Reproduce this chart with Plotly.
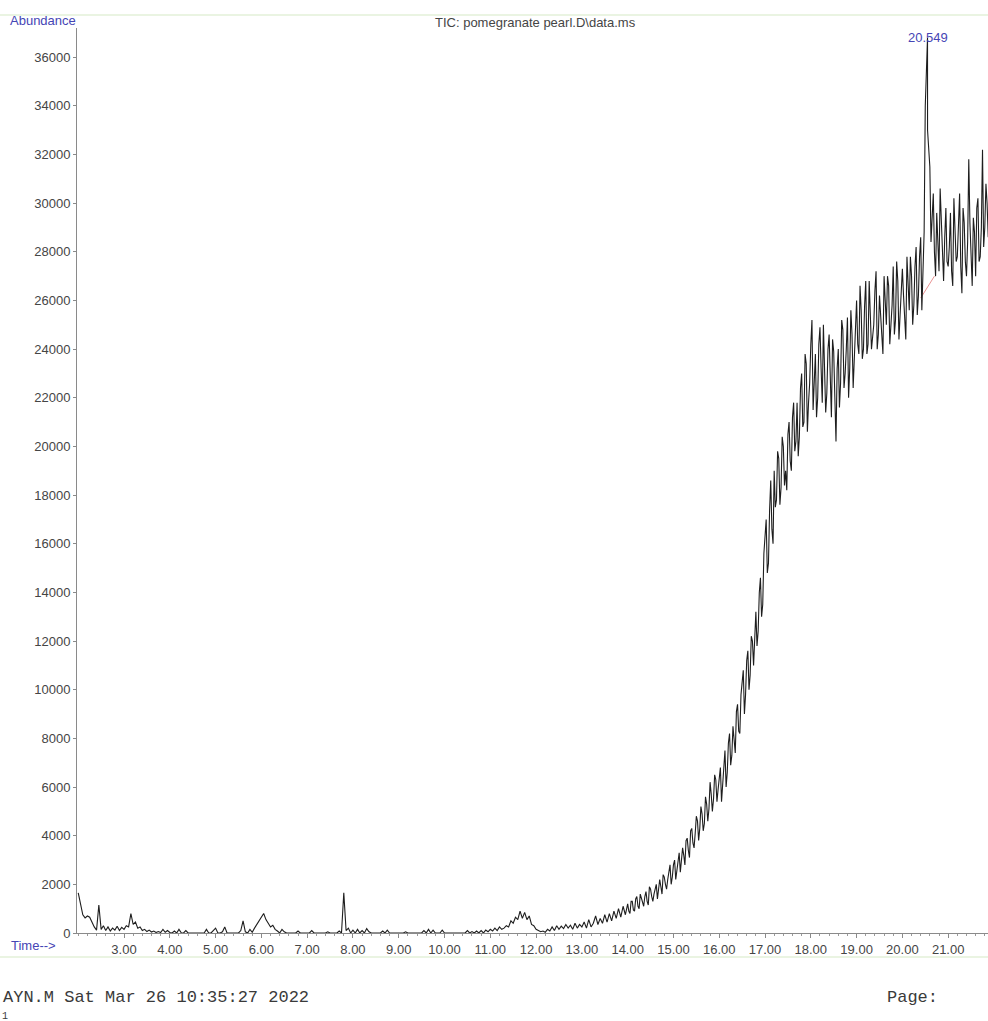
import plotly.graph_objects as go

# Total ion chromatogram, one abundance reading per scan
SCAN_START = 2.00   # min
SCAN_STEP = 0.05    # min
abundance = [
    # 2.00 - 2.95
    1650, 1200, 750, 620, 700, 650, 420, 250, 120, 1150, 150, 300, 100, 250, 80, 200, 120, 280, 100, 230,
    # 3.00 - 3.95
    150, 300, 250, 800, 350, 450, 200, 250, 100, 150, 60, 120, 40, 80, 20, 60, 20, 150, 30, 100,
    # 4.00 - 4.95
    20, 0, 80, 0, 150, 10, 0, 100, 0, 0, 0, 0, 0, 0, 0, 0, 150, 0, 0, 120,
    # 5.00 - 5.95
    200, 0, 0, 50, 250, 0, 0, 0, 0, 0, 0, 100, 500, 50, 0, 150, 30, 200, 350, 450,
    # 6.00 - 6.95
    650, 800, 550, 400, 250, 320, 150, 80, 0, 150, 50, 0, 0, 0, 0, 0, 80, 0, 0, 0,
    # 7.00 - 7.95
    0, 0, 100, 0, 0, 0, 0, 0, 0, 50, 0, 0, 0, 0, 80, 0, 1650, 100, 200, 0,
    # 8.00 - 8.95
    120, 0, 150, 0, 100, 0, 180, 50, 0, 0, 0, 0, 0, 80, 0, 120, 0, 0, 0, 0,
    # 9.00 - 9.95
    0, 0, 0, 50, 0, 0, 0, 0, 0, 0, 0, 100, 0, 150, 0, 120, 0, 0, 0, 120,
    # 10.00 - 10.95
    0, 0, 0, 0, 0, 0, 0, 0, 0, 0, 100, 0, 60, 0, 80, 0, 100, 0, 120, 50,
    # 11.00 - 11.95
    150, 80, 200, 100, 250, 150, 200, 300, 250, 500, 400, 650, 550, 900, 600, 850, 550, 700, 350, 300,
    # 12.00 - 12.95
    150, 100, 50, 80, 30, 150, 80, 250, 100, 300, 150, 280, 180, 350, 200, 320, 150, 400, 200, 350,
    # 13.00 - 13.95
    250, 450, 200, 550, 250, 400, 700, 350, 600, 400, 750, 450, 800, 500, 900, 600, 1000, 650, 1100, 750,
    # 14.00 - 14.95
    1200, 800, 1300, 900, 1500, 1000, 1400, 1100, 1700, 1150, 1800, 1300, 1900, 1400, 2200, 1600, 2300, 1800, 2600, 2000,
    # 15.00 - 15.95
    2800, 2200, 3100, 2500, 3500, 2800, 3900, 3100, 4300, 3500, 4800, 3800, 5200, 4200, 5600, 4600, 6200, 5000, 6500, 5400,
    # 16.00 - 16.95
    6400, 5400, 7200, 6000, 7800, 6900, 8500, 7400, 9400, 8200, 10400, 9000, 11200, 10000, 12200, 11000, 13200, 12400, 14600, 13500,
    # 17.00 - 17.95
    16200, 14800, 17400, 16600, 19000, 17800, 19500, 18300, 20000, 19000, 20500, 19400, 21200, 19800, 21800, 20400, 23000, 21000, 23400, 21800,
    # 18.00 - 18.95
    24200, 21500, 23800, 22000, 24900, 21800, 23600, 22200, 24600, 21200, 23900, 20200, 24000, 22600, 24800, 23000, 25300, 23200, 24600, 23400,
    # 19.00 - 19.95
    26000, 23800, 25600, 24000, 26800, 24200, 25400, 24500, 26400, 24000, 26200, 24600, 27000, 25000, 26600, 24800, 27400, 25200, 26800, 25400,
    # 20.00 - 20.95
    27300, 25200, 27800, 25600, 27000, 25800, 28200, 26200, 28600, 27000, 34000, 33000, 31500, 29200, 28000, 29600, 27200, 29000, 26800, 29800,
    # 21.00 - 21.95
    27400, 29600, 26600, 29000, 27800, 30400, 26300, 29200, 27000, 31800, 27600, 29400, 27000, 30200, 27800, 32200, 29000, 30000, 31000, 29800,
]

# Interleaved scans (half a step later) across the rising part of the run
MID_START = 14.025  # min
abundance_mid = [
    # 14.025 - 14.975
    900, 1300, 950, 1400, 1100, 1600, 1200, 1500, 1300, 1900, 1500, 1600, 2000, 1700, 1900, 2400, 2000, 2200, 2800, 2300,
    # 15.025 - 15.975
    3000, 2600, 3300, 2900, 3200, 3800, 3400, 4200, 3700, 4100, 4600, 4300, 4900, 4500, 5300, 5100, 5700, 5500, 6300, 5900,
    # 16.025 - 16.975
    6800, 6100, 7500, 6600, 8200, 7300, 8000, 9100, 8300, 9800, 10800, 9800, 11600, 10600, 12000, 12600, 11800, 14000, 13000, 15600,
    # 17.025 - 17.975
    17000, 15200, 18600, 16000, 17500, 19800, 17600, 20400, 18400, 18200, 21000, 19000, 21800, 20200, 19600, 22400, 20800, 23800, 20600, 22600,
    # 18.025 - 18.975
    25200, 22800, 21200, 24200, 23200, 25000, 21400, 24000, 22600, 24400, 22000, 23200, 21600, 25200, 22400, 24000, 22000, 25600, 22400, 25000,
    # 19.025 - 19.975
    24200, 26600, 23600, 25800, 23800, 26800, 24000, 25000, 27200, 24600, 25200, 23800, 25600, 27000, 24200, 25800, 24600, 27600, 24400, 26200,
    # 20.025 - 20.975
    26200, 24400, 26600, 27800, 25000, 27400, 25400, 27800, 25600, 28800, 35500, 32200, 28400, 30400, 27000, 28200, 30600, 27400, 28600, 27600,
    # 21.025 - 21.975
    28200, 27200, 30200, 27600, 28800, 27400, 29800, 27600, 28400, 29200, 26600, 28800, 29800, 27600, 29000, 28200, 30800, 28600, 29400, 30200,
]

# Apex of the largest peak
APEX_RT = 20.549
APEX_ABUND = 36800

# Integration baseline drawn under the apex peak
baseline_rt = [20.40, 20.70]
baseline_abund = [26100, 27000]

x_tick_vals = [3, 4, 5, 6, 7, 8, 9, 10, 11, 12, 13, 14, 15, 16, 17, 18, 19, 20, 21]
y_tick_vals = [0, 2000, 4000, 6000, 8000, 10000, 12000, 14000, 16000, 18000,
               20000, 22000, 24000, 26000, 28000, 30000, 32000, 34000, 36000]

title_text = "TIC: pomegranate pearl.D\\data.ms"
footer_left = "AYN.M Sat Mar 26 10:35:27 2022"
footer_right = "Page:"
footer_page = "1"

# Retention times from the scan index; merge both scan sets and the apex scan
rt = [round(SCAN_START + i * SCAN_STEP, 3) for i in range(len(abundance))]
rt_mid = [round(MID_START + i * SCAN_STEP, 3) for i in range(len(abundance_mid))]
points = sorted(list(zip(rt, abundance)) + list(zip(rt_mid, abundance_mid))
                + [(APEX_RT, APEX_ABUND)])
rt_all = [p[0] for p in points]
ab_all = [p[1] for p in points]

BLUE = "#4545b5"
TEXT = "#454545"
SANS = "Liberation Sans, Arial, sans-serif"
MONO = "Liberation Mono, Courier New, monospace"

W_PLOT = 911
H_PLOT = 905

fig = go.Figure()
fig.add_trace(go.Scatter(
    x=baseline_rt, y=baseline_abund, mode="lines",
    line=dict(color="rgba(225,110,110,0.75)", width=1),
    hoverinfo="skip", showlegend=False,
))
fig.add_trace(go.Scatter(
    x=rt_all, y=ab_all, mode="lines",
    line=dict(color="#1e1e1e", width=1.1),
    showlegend=False,
))

fig.update_layout(
    width=988, height=1021,
    margin=dict(l=77, r=0, t=28, b=88),
    paper_bgcolor="white", plot_bgcolor="white",
    font=dict(family=SANS, size=13, color=TEXT),
    showlegend=False,
)

fig.update_xaxes(
    range=[1.973, 21.87],
    tickmode="array", tickvals=x_tick_vals,
    ticktext=[f"{v:.2f}" for v in x_tick_vals],
    ticks="outside", ticklen=4, tickcolor="#8a8a8a", tickwidth=1,
    minor=dict(tickmode="linear", tick0=0, dtick=0.2, ticks="outside",
               ticklen=2, tickcolor="#9a9a9a", showgrid=False),
    showline=True, linecolor="#8a8a8a", linewidth=1,
    showgrid=False, zeroline=False,
    tickfont=dict(family=SANS, size=13, color=TEXT),
)
fig.update_yaxes(
    range=[0, 37200],
    tickmode="array", tickvals=y_tick_vals,
    ticktext=[str(v) for v in y_tick_vals],
    ticks="outside", ticklen=3, tickcolor="#8a8a8a", tickwidth=1,
    showline=True, linecolor="#8a8a8a", linewidth=1,
    showgrid=False, zeroline=False,
    tickfont=dict(family=SANS, size=13, color=TEXT),
)

annotations = [
    dict(text="Abundance", xref="paper", yref="paper", x=0, y=1,
         xanchor="right", yanchor="middle", xshift=1, yshift=8, showarrow=False,
         font=dict(family=SANS, size=13, color=BLUE)),
    dict(text=title_text, xref="paper", yref="paper", x=(535 - 77) / W_PLOT, y=1,
         xanchor="center", yanchor="middle", yshift=6, showarrow=False,
         font=dict(family=SANS, size=13, color=TEXT)),
    dict(text=f"{APEX_RT:.3f}", xref="x", yref="y", x=APEX_RT, y=APEX_ABUND,
         xanchor="center", yanchor="middle", showarrow=False,
         font=dict(family=SANS, size=13, color=BLUE)),
    dict(text="Time-->", xref="paper", yref="paper", x=0, y=0,
         xanchor="right", yanchor="middle", xshift=-19, yshift=-12, showarrow=False,
         font=dict(family=SANS, size=13, color=BLUE)),
    dict(text=footer_left, xref="paper", yref="paper", x=-77 / W_PLOT, y=-65 / H_PLOT,
         xanchor="left", yanchor="middle", xshift=1, showarrow=False,
         font=dict(family=MONO, size=17, color="#3a3a3a")),
    dict(text=footer_right, xref="paper", yref="paper", x=(885 - 77) / W_PLOT, y=-65 / H_PLOT,
         xanchor="left", yanchor="middle", showarrow=False,
         font=dict(family=MONO, size=17, color="#3a3a3a")),
    dict(text=footer_page, xref="paper", yref="paper", x=-77 / W_PLOT, y=-83 / H_PLOT,
         xanchor="left", yanchor="middle", xshift=0, showarrow=False,
         font=dict(family=MONO, size=10, color="#3a3a3a")),
]
fig.update_layout(annotations=annotations)

# Faint ruled lines above the title and below the time axis labels
fig.add_shape(type="line", xref="paper", yref="paper", x0=-77 / W_PLOT, x1=1,
              y0=1 + 13 / H_PLOT, y1=1 + 13 / H_PLOT,
              line=dict(color="#eaf4e2", width=2))
fig.add_shape(type="line", xref="paper", yref="paper", x0=-77 / W_PLOT, x1=1,
              y0=-24 / H_PLOT, y1=-24 / H_PLOT,
              line=dict(color="#eaf4e2", width=2))

fig.write_html("out.html")
